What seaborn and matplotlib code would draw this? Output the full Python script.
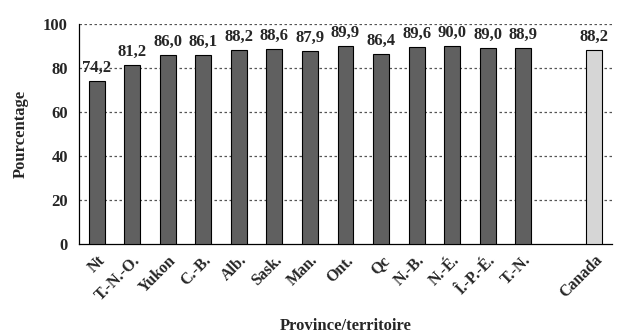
import matplotlib
matplotlib.use("Agg")
import matplotlib.pyplot as plt
from matplotlib.ticker import FixedLocator
import seaborn as sns
import pandas as pd

regions = ["Nt", "T.-N.-O.", "Yukon", "C.-B.", "Alb.", "Sask.", "Man.", "Ont.",
           "Qc", "N.-B.", "N.-É.", "Î.-P.-É.", "T.-N.", "Canada"]
values = [74.2, 81.2, 86.0, 86.1, 88.2, 88.6, 87.9, 89.9,
          86.4, 89.6, 90.0, 89.0, 88.9, 88.2]
y_ticks = [0, 20, 40, 60, 80, 100]

df = pd.DataFrame({"region": regions, "pct": values})
order = regions[:-1] + [" "] + regions[-1:]
palette = {r: "#606060" for r in regions}
palette["Canada"] = "#d6d6d6"

sns.set_style("white")
plt.rcParams["font.family"] = ["Liberation Serif", "DejaVu Serif"]
plt.rcParams["font.weight"] = "bold"

fig = plt.figure(figsize=(6.28, 3.33), dpi=100)
ax = fig.add_axes([79 / 628, 1 - 244 / 333, (612 - 79) / 628, 220 / 333])

sns.barplot(data=df, x="region", y="pct", hue="region", order=order,
            palette=palette, width=0.45, edgecolor="black", linewidth=0.8,
            legend=False, ax=ax, zorder=3)

ax.set_ylim(0, 100)
ax.set_xlim(-0.5, len(order) - 0.5)
ax.yaxis.set_major_locator(FixedLocator(y_ticks))
for t in y_ticks[1:]:
    ax.axhline(t, color="#555555", linestyle=(0, (2, 2)), linewidth=0.9, zorder=1)

# value labels above each bar
for i, cat in enumerate(order):
    if cat.strip() == "":
        continue
    v = values[regions.index(cat)]
    ax.text(i, v + 2.3, f"{v:.1f}".replace(".", ","), ha="center", va="bottom",
            fontsize=12, fontweight="bold", zorder=4)

# category labels at bar centres, tick marks at slot boundaries
ax.set_xticks(range(len(order)))
ax.set_xticklabels(order, rotation=45, ha="right", rotation_mode="anchor",
                   fontsize=11.5, fontweight="bold")
ax.tick_params(axis="x", which="major", length=0, pad=6)
ax.set_xticks([i - 0.5 for i in range(len(order) + 1)], minor=True)
ax.tick_params(axis="x", which="minor", length=5, width=0.8, color="black", direction="out")
ax.tick_params(axis="y", length=5, width=0.8, color="black", direction="out",
               labelsize=12, pad=3)
for lbl in ax.get_yticklabels():
    lbl.set_fontweight("bold")

for side in ["top", "right"]:
    ax.spines[side].set_visible(False)
for side in ["left", "bottom"]:
    ax.spines[side].set_color("black")
    ax.spines[side].set_linewidth(0.9)

ax.set_ylabel("Pourcentage", fontsize=12, fontweight="bold", labelpad=10)
ax.set_xlabel("")
fig.text(346 / 628, 1 - 326 / 333, "Province/territoire", ha="center", va="center",
         fontsize=12, fontweight="bold")

fig.savefig("out.png", dpi=100)
